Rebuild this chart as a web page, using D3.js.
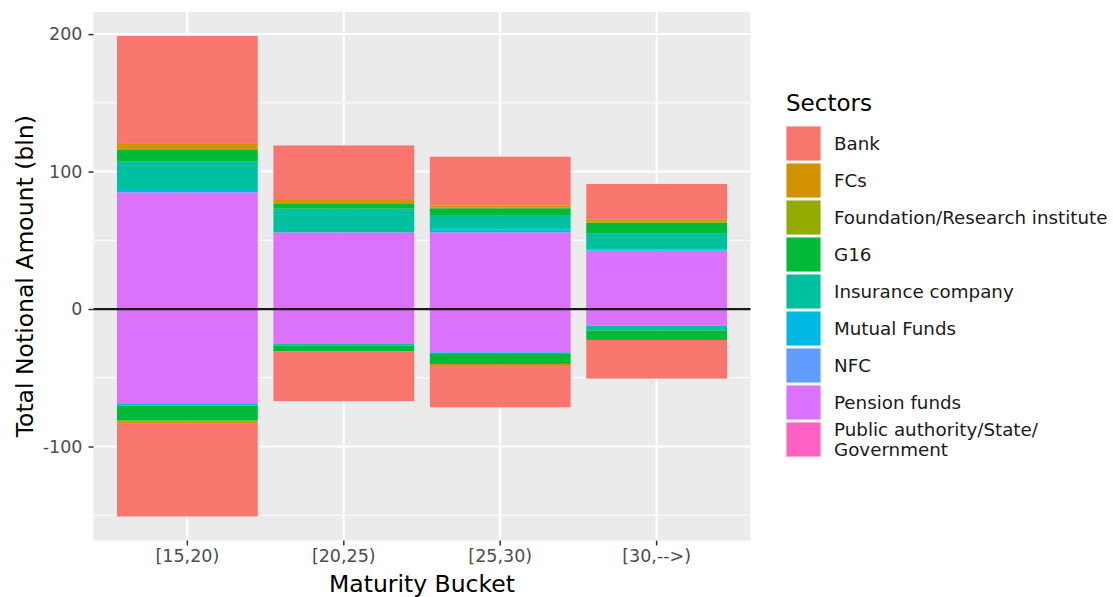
<!DOCTYPE html>
<html>
<head>
<meta charset="utf-8">
<script src="https://cdn.jsdelivr.net/npm/d3@7"></script>
<style>
  html, body { margin: 0; padding: 0; background: #ffffff; }
  svg { display: block; font-family: "DejaVu Sans", sans-serif; }
</style>
</head>
<body>
<svg id="chart" width="1113" height="597"></svg>
<script>
// ---- data (billions) ----
const categories = ["[15,20)", "[20,25)", "[25,30)", "[30,-->)"];
const sectors = ["Bank", "FCs", "Foundation/Research institute", "G16", "Insurance company",
                 "Mutual Funds", "NFC", "Pension funds", "Public authority/State/Government"];
const legendLabels = [["Bank"], ["FCs"], ["Foundation/Research institute"], ["G16"], ["Insurance company"],
                      ["Mutual Funds"], ["NFC"], ["Pension funds"], ["Public authority/State/", "Government"]];
const sectorColors = ["#F8766D", "#D39200", "#93AA00", "#00BA38", "#00C19F",
                      "#00B9E3", "#619CFF", "#DB72FB", "#FF61C3"];

// long (positive) amounts per sector, one value per maturity bucket
const bankLong        = [78.5, 39.0, 35.6, 26.0];
const fcsLong         = [4.4, 3.1, 1.2, 1.2];
const foundationLong  = [0, 0, 0.7, 1.0];
const g16Long         = [8.5, 3.9, 4.9, 8.0];
const insuranceLong   = [20.6, 17.2, 10.4, 11.6];
const mutualLong      = [1.7, 0, 2.2, 0.7];
const nfcLong         = [0, 0, 0, 0.3];
const pensionLong     = [84.9, 55.8, 55.8, 42.2];
const publicLong      = [0, 0, 0, 0];

// short (negative) amounts per sector
const bankShort       = [-67.9, -36.1, -30.0, -28.1];
const fcsShort        = [-1.0, 0, -1.5, 0];
const foundationShort = [-0.8, 0, 0, 0];
const g16Short        = [-10.9, -4.4, -7.3, -6.8];
const insuranceShort  = [0, -1.5, 0, -3.6];
const mutualShort     = [-1.7, 0, -0.8, 0];
const nfcShort        = [0, 0, -0.6, 0];
const pensionShort    = [-68.6, -25.0, -31.3, -12.1];
const publicShort     = [0, 0, 0, 0];

const yTicks = [-100, 0, 100, 200];
const yTickLabels = ["-100", "0", "100", "200"];
const yMinor = [-150, -50, 50, 150];
const xTitle = "Maturity Bucket";
const yTitle = "Total Notional Amount (bln)";
const legendTitle = "Sectors";

// ---- build rows ----
const longSeries = [bankLong, fcsLong, foundationLong, g16Long, insuranceLong, mutualLong, nfcLong, pensionLong, publicLong];
const shortSeries = [bankShort, fcsShort, foundationShort, g16Short, insuranceShort, mutualShort, nfcShort, pensionShort, publicShort];
const rows = [];
categories.forEach((c, i) => {
  const lr = { cat: c }, sr = { cat: c };
  sectors.forEach((s, k) => { lr[s] = longSeries[k][i]; sr[s] = shortSeries[k][i]; });
  rows.push(lr, sr);
});

// ggplot stacks the first level farthest from zero -> reverse key order
const stackKeys = sectors.slice().reverse();
const stacked = d3.stack().keys(stackKeys).offset(d3.stackOffsetDiverging)(rows);

// ---- layout ----
const svg = d3.select("#chart");
const panel = { left: 93.5, right: 750.5, top: 12, bottom: 540.5 };

const yMax = d3.max(stacked, s => d3.max(s, d => d[1]));
const yMin = d3.min(stacked, s => d3.min(s, d => d[0]));
const pad = (yMax - yMin) * 0.05;
const y = d3.scaleLinear().domain([yMin - pad, yMax + pad]).range([panel.bottom, panel.top]);
const x = d3.scaleBand().domain(categories).range([panel.left, panel.right])
  .paddingInner(0.1).paddingOuter(0.15);

// panel background
svg.append("rect").attr("x", panel.left).attr("y", panel.top)
  .attr("width", panel.right - panel.left).attr("height", panel.bottom - panel.top)
  .attr("fill", "#EBEBEB");

// grid
const grid = svg.append("g");
grid.selectAll(".minor").data(yMinor).join("line")
  .attr("x1", panel.left).attr("x2", panel.right)
  .attr("y1", d => y(d)).attr("y2", d => y(d))
  .attr("stroke", "#fff").attr("stroke-width", 1);
grid.selectAll(".majorY").data(yTicks).join("line")
  .attr("x1", panel.left).attr("x2", panel.right)
  .attr("y1", d => y(d)).attr("y2", d => y(d))
  .attr("stroke", "#fff").attr("stroke-width", 2);
grid.selectAll(".majorX").data(categories).join("line")
  .attr("x1", d => x(d) + x.bandwidth() / 2).attr("x2", d => x(d) + x.bandwidth() / 2)
  .attr("y1", panel.top).attr("y2", panel.bottom)
  .attr("stroke", "#fff").attr("stroke-width", 2);

// bars
const colorOf = d3.scaleOrdinal().domain(sectors).range(sectorColors);
svg.append("g").selectAll("g").data(stacked).join("g")
  .attr("fill", s => colorOf(s.key))
  .selectAll("rect").data(s => s.filter(d => d[1] - d[0] !== 0)).join("rect")
  .attr("x", d => x(d.data.cat))
  .attr("width", x.bandwidth())
  .attr("y", d => y(Math.max(d[0], d[1])))
  .attr("height", d => Math.abs(y(d[0]) - y(d[1])));

// zero line
svg.append("line").attr("x1", panel.left).attr("x2", panel.right)
  .attr("y1", y(0)).attr("y2", y(0))
  .attr("stroke", "#1a1a1a").attr("stroke-width", 2.2);

// axes
const yAxis = svg.append("g").attr("transform", `translate(${panel.left},0)`)
  .call(d3.axisLeft(y).tickValues(yTicks).tickSize(5).tickPadding(6)
    .tickFormat((d, i) => yTickLabels[i]));
yAxis.select(".domain").remove();
yAxis.selectAll(".tick line").attr("stroke", "#333333").attr("stroke-width", 1.5);
yAxis.selectAll(".tick text").attr("fill", "#4D4D4D").style("font-size", "17.5px")
  .style("font-family", "DejaVu Sans, sans-serif");

const xAxis = svg.append("g").attr("transform", `translate(0,${panel.bottom})`)
  .call(d3.axisBottom(x).tickSize(5).tickPadding(4));
xAxis.select(".domain").remove();
xAxis.selectAll(".tick line").attr("stroke", "#333333").attr("stroke-width", 1.5);
xAxis.selectAll(".tick text").attr("fill", "#4D4D4D").style("font-size", "17.5px")
  .style("font-family", "DejaVu Sans, sans-serif");

// axis titles
svg.append("text").attr("x", (panel.left + panel.right) / 2).attr("y", 592)
  .attr("text-anchor", "middle").style("font-size", "23.5px").attr("fill", "#000")
  .text(xTitle);
svg.append("text").attr("transform", `translate(33,${(panel.top + panel.bottom) / 2}) rotate(-90)`)
  .attr("text-anchor", "middle").style("font-size", "23.5px").attr("fill", "#000")
  .text(yTitle);

// legend
const lg = svg.append("g").attr("transform", "translate(786,0)");
lg.append("text").attr("x", 0).attr("y", 111).style("font-size", "23px").attr("fill", "#000")
  .text(legendTitle);
const keyTop = 126, keyStep = 37, keySize = 35;
const items = lg.selectAll(".item").data(sectors).join("g")
  .attr("transform", (d, i) => `translate(0,${keyTop + i * keyStep})`);
items.append("rect").attr("width", keySize).attr("height", keySize)
  .attr("fill", d => colorOf(d)).attr("stroke", "#f2f2f2").attr("stroke-width", 1);
items.each(function (d, i) {
  const lines = legendLabels[i];
  const t = d3.select(this).append("text").attr("x", 48)
    .style("font-size", "18.3px").attr("fill", "#1a1a1a");
  const lh = 20.5;
  const start = keySize / 2 - (lines.length - 1) * lh / 2;
  lines.forEach((ln, j) => {
    t.append("tspan").attr("x", 48).attr("y", start + j * lh).attr("dy", "0.35em").text(ln);
  });
});
</script>
</body>
</html>
